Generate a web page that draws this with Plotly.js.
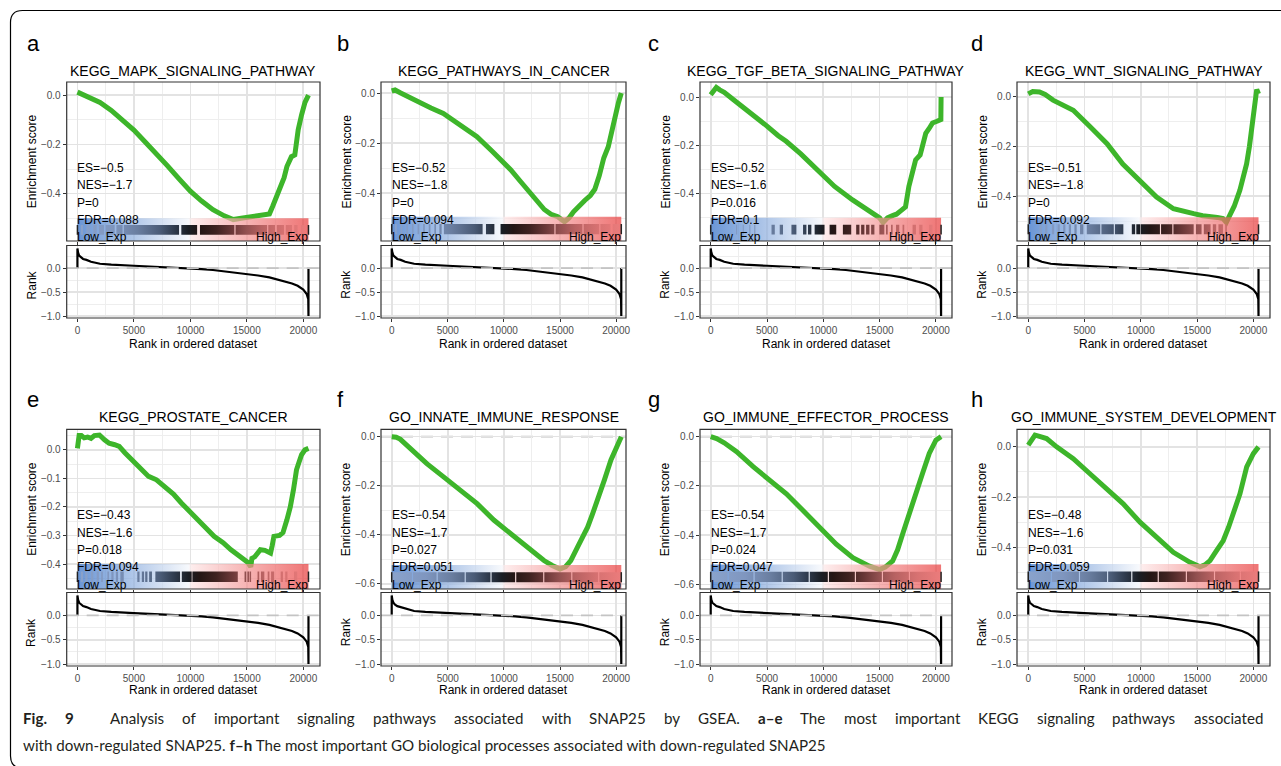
<!DOCTYPE html>
<html><head><meta charset="utf-8">
<script src="https://cdn.plot.ly/plotly-3.0.1.min.js"></script>
<style>html,body{margin:0;padding:0;background:#fff;}#chart{width:1281px;height:766px;}</style>
</head><body><div id="chart"></div>
<script>
// ---------------- DATA ----------------
const nGenes = 20460;
const panelLetters = ['a','b','c','d','e','f','g','h'];
const panelTitles = ['KEGG_MAPK_SIGNALING_PATHWAY','KEGG_PATHWAYS_IN_CANCER','KEGG_TGF_BETA_SIGNALING_PATHWAY','KEGG_WNT_SIGNALING_PATHWAY','KEGG_PROSTATE_CANCER','GO_INNATE_IMMUNE_RESPONSE','GO_IMMUNE_EFFECTOR_PROCESS','GO_IMMUNE_SYSTEM_DEVELOPMENT'];
const esScore  = [-0.5, -0.52, -0.52, -0.51, -0.43, -0.54, -0.54, -0.48];
const nesScore = [-1.7, -1.8, -1.6, -1.8, -1.6, -1.7, -1.7, -1.6];
const pValue   = [0, 0, 0.016, 0, 0.018, 0.027, 0.024, 0.031];
const fdrValue = [0.088, 0.094, 0.1, 0.092, 0.094, 0.051, 0.047, 0.059];

const esX_a = [0,300,700,1200,2000,3000,4000,5000,6000,7000,8000,9000,10000,11000,12000,13000,13800,14500,15200,16000,16700,17000,17300,17600,17950,18300,18550,18950,19250,19550,19850,20150,20460];
const esY_a = [0.012,0.006,-0.002,-0.012,-0.03,-0.062,-0.1,-0.142,-0.19,-0.237,-0.288,-0.34,-0.39,-0.43,-0.465,-0.49,-0.505,-0.5,-0.495,-0.49,-0.488,-0.482,-0.45,-0.415,-0.365,-0.335,-0.29,-0.25,-0.243,-0.14,-0.08,-0.03,0.0];
const esX_b = [0,300,800,1500,2500,3500,4600,6000,7600,9000,10600,11500,12400,13000,13600,14200,14800,15400,15800,16200,16600,17200,17700,18100,18500,18900,19300,19600,19900,20200,20460];
const esY_b = [0.008,0.012,0.0,-0.016,-0.04,-0.06,-0.082,-0.125,-0.175,-0.235,-0.307,-0.355,-0.4,-0.435,-0.466,-0.485,-0.495,-0.515,-0.5,-0.475,-0.455,-0.43,-0.41,-0.385,-0.33,-0.26,-0.215,-0.15,-0.095,-0.04,0.0];
const esX_c = [0,250,500,800,1200,2000,3000,3800,5000,6000,6700,8000,9700,11000,12600,13500,14200,15000,15300,15700,16200,16500,16900,17300,17600,17900,18200,18600,19100,19400,19700,20100,20440,20460];
const esY_c = [0.01,0.03,0.04,0.03,0.02,-0.01,-0.045,-0.072,-0.12,-0.16,-0.183,-0.235,-0.315,-0.37,-0.426,-0.455,-0.475,-0.5,-0.52,-0.5,-0.49,-0.485,-0.47,-0.455,-0.37,-0.32,-0.26,-0.24,-0.15,-0.13,-0.107,-0.1,-0.093,0.0];
const esX_d = [0,400,1000,1500,2200,3000,4000,5500,7000,8400,9900,11400,12900,13800,14700,15500,16200,16800,17300,17600,17900,18300,18800,19100,19400,19650,19850,20000,20150,20300,20460];
const esY_d = [0.012,0.022,0.02,0.01,-0.013,-0.03,-0.054,-0.12,-0.188,-0.27,-0.336,-0.403,-0.45,-0.462,-0.47,-0.478,-0.48,-0.485,-0.49,-0.505,-0.477,-0.44,-0.376,-0.33,-0.27,-0.2,-0.134,-0.06,0.0,0.03,0.012];
const esX_e = [0,150,350,600,900,1200,1500,1950,2400,2800,3300,3700,4200,4850,5500,6300,7000,7800,8500,9200,10000,10700,11400,12100,12900,13600,14200,14800,15100,15350,15450,15700,16000,16200,16600,17100,17250,17400,17900,18200,18550,18850,19130,19400,19650,19850,20150,20460];
const esY_e = [0.005,0.05,0.05,0.042,0.045,0.04,0.05,0.052,0.035,0.023,0.018,0.012,-0.01,-0.035,-0.06,-0.093,-0.105,-0.13,-0.155,-0.186,-0.22,-0.25,-0.275,-0.303,-0.325,-0.35,-0.37,-0.385,-0.395,-0.41,-0.38,-0.375,-0.36,-0.35,-0.352,-0.362,-0.335,-0.303,-0.3,-0.29,-0.245,-0.2,-0.14,-0.07,-0.04,-0.017,0.0,0.005];
const esX_f = [0,400,750,1640,3130,4620,6110,7610,9100,10590,12080,13570,14300,15000,15500,15960,16560,17000,17460,17900,18350,18950,19540,20140,20460];
const esY_f = [0.0,-0.002,-0.01,-0.048,-0.11,-0.164,-0.218,-0.273,-0.34,-0.396,-0.45,-0.505,-0.525,-0.54,-0.53,-0.505,-0.45,-0.41,-0.369,-0.315,-0.26,-0.177,-0.095,-0.027,0.0];
const esX_g = [0,530,1200,2300,3770,5250,6720,8200,9670,11150,12620,14100,15000,15500,16160,16600,17040,17500,17930,18400,18810,19410,20000,20460];
const esY_g = [0.0,-0.008,-0.025,-0.061,-0.122,-0.177,-0.232,-0.3,-0.369,-0.437,-0.492,-0.526,-0.54,-0.53,-0.505,-0.46,-0.396,-0.33,-0.26,-0.2,-0.15,-0.068,-0.014,0.0];
const esX_h = [0,300,600,1000,1630,2520,4000,5480,6960,8440,9930,11410,12890,14370,15260,15700,16150,16700,17330,17800,18220,18810,19410,20000,20460];
const esY_h = [0.007,0.03,0.047,0.042,0.033,0.0,-0.047,-0.107,-0.167,-0.227,-0.3,-0.36,-0.42,-0.46,-0.478,-0.47,-0.453,-0.415,-0.373,-0.32,-0.267,-0.187,-0.08,-0.027,0.0];

// gene-set hit positions (runs of ranks [start, end])
const hits_a = [[300,500],[800,1100],[1400,1700],[1900,2350],[2500,3300],[3450,4000],[4100,9000],[9200,10600],[10850,13900],[14000,16800],[16900,17500],[17650,18300],[18450,19000],[19200,19500],[19800,20100]];
const hits_b = [[300,450],[800,950],[1300,1450],[1800,1950],[2300,2450],[2800,2950],[3300,3450],[3800,3950],[4250,4450],[4650,8100],[8400,9150],[9700,14500],[14600,17000],[17100,18500],[18600,19500],[19700,20300]];
const hits_c = [[2250,2350],[2850,2930],[3440,3520],[3880,3960],[5400,5690],[6130,6420],[7170,7610],[8200,8500],[8640,8940],[9230,10110],[10560,11150],[11740,12480],[12920,13210],[13360,13650],[13800,14100],[14250,14540],[14980,15420],[15570,15720],[16020,16160],[16460,16750],[17040,17190],[17930,18230],[18520,18810],[19400,19700]];
const hits_d = [[1000,1200],[1500,1700],[2100,2300],[2600,2800],[3100,3300],[3600,3800],[4100,4300],[4600,4900],[5200,6400],[6500,7600],[7700,8450],[9200,9500],[9600,9950],[10000,11700],[11800,12800],[12900,14700],[14900,15400],[15600,16200],[16400,16700],[16900,17300],[17500,17650]];
const hits_e = [[300,500],[700,900],[1200,1400],[1700,1900],[2100,2250],[2650,2800],[3000,3200],[3400,3600],[3800,4100],[5300,5500],[5700,5900],[6000,6200],[6350,6600],[6900,9090],[9240,10120],[10180,14200],[14800,14950],[15050,15200],[15250,15380],[15950,16100],[16250,16550],[16850,17000],[17150,17420],[18000,18200],[18400,18600],[19180,19470]];
const hits_f = [[0,1800],[1900,4000],[4100,6500],[6600,8800],[8900,11000],[11100,13500],[13600,16000],[16100,18400],[18500,20460]];
const hits_g = [[0,1500],[1600,3800],[3900,6300],[6400,8700],[8800,10400],[10500,12800],[12900,15200],[15300,17600],[17700,20460]];
const hits_h = [[0,2000],[2100,4500],[4600,7000],[7100,9150],[9250,11500],[11600,14000],[14100,16500],[16600,18800],[18900,20460]];

// ranked list metric
const rankX = [0,0,60,150,300,500,800,1200,2000,3000,5000,8000,10000,11000,12000,13000,14000,15000,16000,17000,18000,19000,19500,20000,20300,20440,20460,20460];
const rankY = [0,0.41,0.32,0.26,0.22,0.19,0.17,0.13,0.09,0.07,0.048,0.02,0.0,-0.02,-0.04,-0.065,-0.09,-0.12,-0.155,-0.195,-0.25,-0.32,-0.37,-0.45,-0.54,-0.65,-1.0,0];

// caption words: [text, bold]
const captionLine1 = [['Fig.',1],['9',1],['Analysis',0],['of',0],['important',0],['signaling',0],['pathways',0],['associated',0],['with',0],['SNAP25',0],['by',0],['GSEA.',0],['a\u2013e',1],['The',0],['most',0],['important',0],['KEGG',0],['signaling',0],['pathways',0],['associated',0]];
const captionLine2 = 'with down-regulated SNAP25. <b>f\u2013h</b> The most important GO biological processes associated with down-regulated SNAP25';

// ---------------- LAYOUT CONFIG ----------------
const W = 1281, H = 766;
const FONT = 'Liberation Sans, Arial, Helvetica, sans-serif';
const CAPFONT = 'Lato, "Liberation Sans", sans-serif';
const esXs = [esX_a,esX_b,esX_c,esX_d,esX_e,esX_f,esX_g,esX_h];
const esYs = [esY_a,esY_b,esY_c,esY_d,esY_e,esY_f,esY_g,esY_h];
const hitRuns = [hits_a,hits_b,hits_c,hits_d,hits_e,hits_f,hits_g,hits_h];
const colL = [66.7,381,700,1017], colR = [320,626,952,1270];
const colXR = [[-950,21480],[-954,20880],[-950,21430],[-1000,21480]];
const rowTop = [[82,241],[429.3,589]], rowRank = [[245.5,318],[592.5,666]];
const topYR = [[-0.592,0.053],[-0.592,0.044],[-0.596,0.0625],[-0.58,0.06],[-0.4875,0.072],[-0.621,0.03],[-0.619,0.03],[-0.566,0.07]];
const bandTop = [-0.5,-0.495,-0.5,-0.484,-0.4,-0.523,-0.519,-0.466];
const yDt = [0.2,0.2,0.2,0.2,0.1,0.2,0.2,0.2];
const letterX = [25,335,646,969];
const px = v => v / W, py = v => 1 - v / H;
const an = n => n === 1 ? '' : String(n);
const fmt = v => String(v).replace('-', '\u2212');

const bandScale = [[0,'#2a68c3'],[0.48,'#f3f6fb'],[0.495,'#fde4e4'],[1,'#e83a3a']];
const hitScale = [[0,'#8aa3cc'],[0.15,'#7f96bf'],[0.26,'#6a7ea0'],[0.36,'#4a5b76'],[0.42,'#2f3b4d'],[0.48,'#1a1e24'],[0.53,'#241614'],[0.6,'#3e2220'],[0.67,'#6b3838'],[0.73,'#925050'],[0.8,'#b86262'],[0.9,'#d87272'],[1,'#ec7c7c']];

const traces = [], shapes = [], annotations = [];
const layout = {
  width: W, height: H, margin: {l:0,r:0,t:0,b:0}, autosize: false,
  paper_bgcolor: '#ffffff', plot_bgcolor: '#ffffff', showlegend: false,
  font: {family: FONT, color: '#000'}
};

const GRID = '#E3E3E3', MGRID = '#EEEEEE';
function axBase() {
  return {showline:false, ticks:'outside', ticklen:3, tickwidth:1,
    tickcolor:'#333333', showgrid:true, gridcolor:GRID, gridwidth:1.6, zeroline:false,
    tickfont:{family:FONT, size:10, color:'#4D4D4D'}, fixedrange:true};
}

for (let i = 0; i < 8; i++) {
  const col = i % 4, row = Math.floor(i / 4);
  const nT = 2*i + 1, nR = 2*i + 2;
  const xT = 'x' + an(nT), yT = 'y' + an(nT), xR = 'x' + an(nR), yR = 'y' + an(nR);
  const dom = [px(colL[col]), px(colR[col])];
  const xTop = Object.assign(axBase(), {domain:dom, range:colXR[col], anchor:yT, tickmode:'linear', tick0:0, dtick:5000, showticklabels:false, tickformat:'d',
    minor:{tick0:0, dtick:2500, showgrid:true, gridcolor:MGRID, gridwidth:1}});
  const xRank = Object.assign(axBase(), {domain:dom, range:colXR[col], anchor:yR, tickmode:'linear', tick0:0, dtick:5000, showticklabels:true, tickformat:'d',
    minor:{tick0:0, dtick:2500, showgrid:true, gridcolor:MGRID, gridwidth:1}});
  const yTop = Object.assign(axBase(), {domain:[py(rowTop[row][1]), py(rowTop[row][0])], range:topYR[i], anchor:xT, tickmode:'linear', tick0:0, dtick:yDt[i], tickformat:'.1f',
    minor:{tick0:0, dtick:yDt[i]/2, showgrid:true, gridcolor:MGRID, gridwidth:1}});
  const yRank = Object.assign(axBase(), {domain:[py(rowRank[row][1]), py(rowRank[row][0])], range:[-1.04,0.47], anchor:xR, tickmode:'linear', tick0:0, dtick:0.5, tickformat:'.1f',
    minor:{tick0:0, dtick:0.25, showgrid:true, gridcolor:MGRID, gridwidth:1}});
  layout['xaxis' + an(nT)] = xTop; layout['yaxis' + an(nT)] = yTop;
  layout['xaxis' + an(nR)] = xRank; layout['yaxis' + an(nR)] = yRank;

  // reference dashed lines at 0
  shapes.push({type:'line', xref:xT + ' domain', yref:yT, x0:0, x1:1, y0:0, y1:0, layer:'below', line:{color:'#BEBEBE', width:1.8, dash:'12px,8px'}});
  shapes.push({type:'line', xref:xR + ' domain', yref:yR, x0:0, x1:1, y0:0, y1:0, layer:'above', line:{color:'#C4C4C4', width:1.8, dash:'12px,8px'}});
  // panel borders
  shapes.push({type:'rect', xref:xT + ' domain', yref:yT + ' domain', x0:0, x1:1, y0:0, y1:1, layer:'above', line:{color:'#333333', width:1.2}});
  shapes.push({type:'rect', xref:xR + ' domain', yref:yR + ' domain', x0:0, x1:1, y0:0, y1:1, layer:'above', line:{color:'#333333', width:1.2}});

  // ES curve
  traces.push({type:'scatter', mode:'lines', x:esXs[i], y:esYs[i], xaxis:xT, yaxis:yT, line:{color:'#3DB52A', width:5}, hoverinfo:'skip'});
  // gradient band
  const bt = bandTop[i], bb = topYR[i][0];
  traces.push({type:'scatter', mode:'lines', x:[0,nGenes,nGenes,0,0], y:[bt,bt,bb,bb,bt], xaxis:xT, yaxis:yT, fill:'toself',
    line:{width:0}, opacity:0.7, fillgradient:{type:'horizontal', colorscale:bandScale, start:0, stop:nGenes}, hoverinfo:'skip'});
  // hits
  const h0 = bt + 0.3*(bb - bt), h1 = bt + 0.72*(bb - bt);
  const hx = [], hy = [];
  hitRuns[i].forEach(r => { hx.push(r[0], r[1], r[1], r[0], r[0], null); hy.push(h0, h0, h1, h1, h0, null); });
  traces.push({type:'scatter', mode:'lines', x:hx, y:hy, xaxis:xT, yaxis:yT, fill:'toself', line:{width:0},
    fillgradient:{type:'horizontal', colorscale:hitScale, start:0, stop:nGenes}, hoverinfo:'skip'});
  // end ticks
  traces.push({type:'scatter', mode:'lines', x:[0,0,null,nGenes,nGenes], y:[h0,h1,null,h0,h1], xaxis:xT, yaxis:yT, line:{color:'#222', width:1.5}, hoverinfo:'skip'});
  // rank metric
  traces.push({type:'scatter', mode:'lines', x:rankX, y:rankY, xaxis:xR, yaxis:yR, line:{color:'#000', width:2.2}, hoverinfo:'skip'});

  // texts
  const cx = (colL[col] + colR[col]) / 2;
  const topPx = rowTop[row][0], botPx = rowTop[row][1];
  annotations.push({xref:'paper', yref:'paper', x:px(cx), y:py(row ? 417 : 71), text:panelTitles[i], showarrow:false, xanchor:'center', yanchor:'middle', font:{family:FONT, size:14, color:'#000'}});
  annotations.push({xref:'paper', yref:'paper', x:px(letterX[col]), y:py(row ? 399 : 43), text:panelLetters[i], showarrow:false, xanchor:'left', yanchor:'middle', font:{family:FONT, size:22, color:'#000'}});
  const stats = ['ES=' + fmt(esScore[i]), 'NES=' + fmt(nesScore[i]), 'P=' + fmt(pValue[i]), 'FDR=' + fmt(fdrValue[i])];
  const offs = [86, 103.5, 120.5, 138];
  stats.forEach((s, k) => annotations.push({xref:xT, yref:'paper', x:0, y:py(topPx + offs[k]), text:s, showarrow:false, xanchor:'left', yanchor:'middle', xshift:-2, font:{family:FONT, size:12, color:'#000'}}));
  annotations.push({xref:xT, yref:'paper', x:0, y:py(botPx - 4), text:'Low_Exp', showarrow:false, xanchor:'left', yanchor:'middle', xshift:-2, font:{family:FONT, size:12, color:'#000'}});
  annotations.push({xref:xT, yref:'paper', x:nGenes, y:py(botPx - 4), text:'High_Exp', showarrow:false, xanchor:'right', yanchor:'middle', xshift:2, font:{family:FONT, size:12, color:'#000'}});
  annotations.push({xref:'paper', yref:'paper', x:px(colL[col] - 35), y:py((topPx + botPx) / 2), text:'Enrichment score', textangle:-90, showarrow:false, xanchor:'center', yanchor:'middle', font:{family:FONT, size:12, color:'#000'}});
  annotations.push({xref:'paper', yref:'paper', x:px(colL[col] - 35), y:py((rowRank[row][0] + rowRank[row][1]) / 2 + 3), text:'Rank', textangle:-90, showarrow:false, xanchor:'center', yanchor:'middle', font:{family:FONT, size:12, color:'#000'}});
  annotations.push({xref:'paper', yref:'paper', x:px(cx), y:py(row ? 690 : 344), text:'Rank in ordered dataset', showarrow:false, xanchor:'center', yanchor:'middle', font:{family:FONT, size:12, color:'#000'}});
}

// ---------------- caption (line 1 justified, line 2 ragged) ----------------
const ctx = document.createElement('canvas').getContext('2d');
function tw(t, size, bold) { ctx.font = (bold ? 'bold ' : '') + size + 'px ' + CAPFONT; return ctx.measureText(t).width; }
const line2Plain = captionLine2.replace(/<\/?b>/g, '');
const capSize = Math.max(12, Math.min(20, 16 * 804 / tw(line2Plain, 16, false)));
const capLeft = 22, capRight = 1262;
let wordsW = 0; captionLine1.forEach(w => { wordsW += tw(w[0], capSize, w[1]); });
const gaps = captionLine1.length - 1;
const gapW = (capRight - capLeft - wordsW) / (gaps + 1); // the gap after "Fig. 9" counts double
let cur = capLeft;
captionLine1.forEach((w, k) => {
  annotations.push({xref:'paper', yref:'paper', x:px(cur), y:py(718), xanchor:'left', yanchor:'middle', showarrow:false,
    text: w[1] ? '<b>' + w[0] + '</b>' : w[0], borderpad:0, font:{family:CAPFONT, size:capSize, color:'#231F20'}});
  cur += tw(w[0], capSize, w[1]) + (k === 1 ? 2*gapW : gapW);
});
annotations.push({xref:'paper', yref:'paper', x:px(capLeft), y:py(745), xanchor:'left', yanchor:'middle', showarrow:false, align:'left', borderpad:0,
  text:captionLine2, font:{family:CAPFONT, size:capSize, color:'#231F20'}});

// outer frame with rounded corners on the left
shapes.push({type:'path', xref:'paper', yref:'paper', layer:'above',
  path:`M ${px(1300)},${py(10.5)} L ${px(22.5)},${py(10.5)} Q ${px(10.5)},${py(10.5)} ${px(10.5)},${py(22.5)} L ${px(10.5)},${py(756)} Q ${px(10.5)},${py(768)} ${px(22.5)},${py(768)}`,
  line:{color:'#000', width:1.2}});

layout.shapes = shapes;
layout.annotations = annotations;
Plotly.newPlot('chart', traces, layout, {staticPlot:true, displayModeBar:false});
</script></body></html>
